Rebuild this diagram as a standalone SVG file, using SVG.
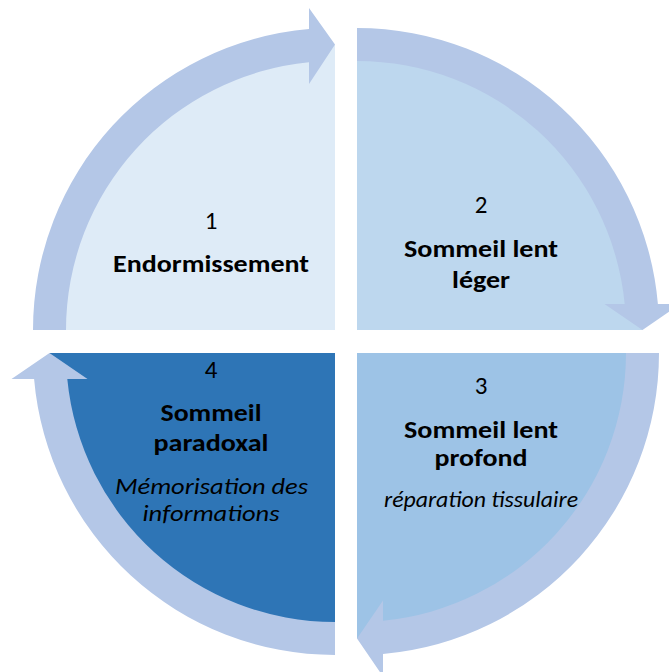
<svg xmlns="http://www.w3.org/2000/svg" width="669" height="672" viewBox="0 0 669 672">
<style>
.num{font-family:Carlito,Lato,"Open Sans",sans-serif;font-size:25px;fill:#000;text-anchor:middle}
.lbl{font-family:Carlito,Lato,"Open Sans",sans-serif;font-size:25px;font-weight:bold;fill:#000;text-anchor:middle}
.sub{font-family:Carlito,Lato,"Open Sans",sans-serif;font-size:22px;font-style:italic;fill:#000;text-anchor:middle}
.arrow{fill:#B4C7E7;stroke:none}
</style>
<rect width="669" height="672" fill="#FFFFFF"/>
<g id="node1">
<path d="M335,330 L49.5,330 A285.5,285.5 0 0 1 335,44.5 Z" fill="#DEEBF7"/>
<text class="num" x="211" y="229">1</text>
<text class="lbl" x="211" y="272" textLength="196" lengthAdjust="spacingAndGlyphs">Endormissement</text>
</g>
<g id="node2">
<path d="M357,330 L357,44.5 A285.5,285.5 0 0 1 642.5,330 Z" fill="#BDD7EE"/>
<text class="num" x="481" y="213">2</text>
<text class="lbl" x="481" y="257" textLength="154" lengthAdjust="spacingAndGlyphs">Sommeil lent</text>
<text class="lbl" x="481" y="288" textLength="58" lengthAdjust="spacingAndGlyphs">léger</text>
</g>
<g id="node3">
<path d="M357,353 L642.5,353 A285.5,285.5 0 0 1 357,638.5 Z" fill="#9DC3E6"/>
<text class="num" x="481" y="394">3</text>
<text class="lbl" x="481" y="438" textLength="154" lengthAdjust="spacingAndGlyphs">Sommeil lent</text>
<text class="lbl" x="481" y="466" textLength="93" lengthAdjust="spacingAndGlyphs">profond</text>
<text class="sub" x="481" y="507" textLength="194" lengthAdjust="spacingAndGlyphs">réparation tissulaire</text>
</g>
<g id="node4">
<path d="M335,353 L335,638.5 A285.5,285.5 0 0 1 49.5,353 Z" fill="#2E75B6"/>
<text class="num" x="211" y="378">4</text>
<text class="lbl" x="211" y="421" textLength="101" lengthAdjust="spacingAndGlyphs">Sommeil</text>
<text class="lbl" x="211" y="451" textLength="115" lengthAdjust="spacingAndGlyphs">paradoxal</text>
<text class="sub" x="211.5" y="494" textLength="193" lengthAdjust="spacingAndGlyphs">Mémorisation des</text>
<text class="sub" x="211" y="521" textLength="137" lengthAdjust="spacingAndGlyphs">informations</text>
</g>
<g id="connectors">
<path class="arrow" d="M33,330 A302,302 0 0 1 309,29.1 L309,8 L335,44.5 L309,84 L309,62.3 A269,269 0 0 0 66,330 Z"/>
<path class="arrow" d="M357,28 A302,302 0 0 1 657.9,304 L680.5,304 L642.5,330 L604.5,304 L624.7,304 A269,269 0 0 0 357,61 Z"/>
<path class="arrow" d="M659,353 A302,302 0 0 1 383,653.9 L383,676.5 L357,638.5 L383,600.5 L383,620.7 A269,269 0 0 0 626,353 Z"/>
<path class="arrow" d="M335,655 A302,302 0 0 1 34.1,379 L11.5,379 L49.5,353 L87.5,379 L67.3,379 A269,269 0 0 0 335,622 Z"/>
</g>
</svg>
